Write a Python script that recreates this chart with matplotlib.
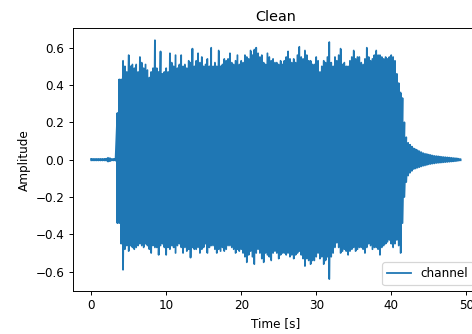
import numpy as np
import matplotlib
matplotlib.use('Agg')
import matplotlib.pyplot as plt

# ---- Data: per-0.25 s peak envelope ----
# sample grid: 0 .. 49.25 s
t_step = 0.25
n_quiet, n_main, n_tail = 14, 153, 31

# 0 - 3.25 s: near silence
quiet_hi = [0.004, 0.004, 0.004, 0.004, 0.004, 0.004, 0.004, 0.004,
            0.005, 0.010, 0.008, 0.004, 0.004, 0.005]
quiet_lo = [-0.004, -0.004, -0.004, -0.004, -0.004, -0.004, -0.004, -0.004,
            -0.005, -0.010, -0.008, -0.004, -0.004, -0.005]

# 3.5 - 41.5 s: one row per second (4 samples)
main_hi = [
    0.25, 0.43, 0.43, 0.53,
    0.50, 0.47, 0.56, 0.50,
    0.51, 0.49, 0.51, 0.47,
    0.55, 0.52, 0.49, 0.51,
    0.48, 0.44, 0.47, 0.49,
    0.64, 0.49, 0.47, 0.58,
    0.46, 0.47, 0.49, 0.47,
    0.57, 0.52, 0.50, 0.56,
    0.49, 0.51, 0.56, 0.50,
    0.51, 0.49, 0.53, 0.52,
    0.595, 0.50, 0.53, 0.57,
    0.52, 0.55, 0.50, 0.51,
    0.54, 0.50, 0.60, 0.50,
    0.52, 0.50, 0.585, 0.50,
    0.51, 0.54, 0.53, 0.54,
    0.57, 0.52, 0.51, 0.53,
    0.56, 0.51, 0.53, 0.52,
    0.56, 0.55, 0.54, 0.585,
    0.56, 0.59, 0.60, 0.57,
    0.55, 0.56, 0.52, 0.51,
    0.57, 0.55, 0.53, 0.54,
    0.52, 0.52, 0.51, 0.53,
    0.51, 0.53, 0.55, 0.58,
    0.54, 0.52, 0.54, 0.52,
    0.56, 0.605, 0.55, 0.54,
    0.585, 0.56, 0.53, 0.53,
    0.51, 0.51, 0.55, 0.53,
    0.47, 0.50, 0.53, 0.52,
    0.55, 0.63, 0.52, 0.50,
    0.55, 0.53, 0.56, 0.595,
    0.51, 0.52, 0.50, 0.50,
    0.53, 0.55, 0.585, 0.54,
    0.55, 0.55, 0.52, 0.51,
    0.54, 0.60, 0.55, 0.53,
    0.54, 0.56, 0.585, 0.56,
    0.56, 0.55, 0.54, 0.55,
    0.54, 0.55, 0.56, 0.55,
    0.53, 0.46, 0.41, 0.36,
    0.33,
]
main_lo = [
    -0.34, -0.34, -0.45, -0.59,
    -0.48, -0.46, -0.49, -0.46,
    -0.47, -0.48, -0.47, -0.46,
    -0.45, -0.46, -0.47, -0.45,
    -0.46, -0.48, -0.50, -0.46,
    -0.47, -0.47, -0.51, -0.46,
    -0.45, -0.47, -0.51, -0.47,
    -0.48, -0.46, -0.47, -0.50,
    -0.46, -0.45, -0.47, -0.50,
    -0.47, -0.49, -0.48, -0.525,
    -0.47, -0.48, -0.48, -0.47,
    -0.50, -0.48, -0.47, -0.45,
    -0.50, -0.47, -0.46, -0.46,
    -0.48, -0.50, -0.48, -0.49,
    -0.47, -0.49, -0.48, -0.46,
    -0.46, -0.47, -0.48, -0.50,
    -0.48, -0.49, -0.48, -0.50,
    -0.52, -0.55, -0.51, -0.49,
    -0.52, -0.56, -0.50, -0.48,
    -0.50, -0.53, -0.55, -0.50,
    -0.51, -0.52, -0.54, -0.50,
    -0.49, -0.50, -0.53, -0.51,
    -0.50, -0.50, -0.51, -0.50,
    -0.52, -0.51, -0.53, -0.51,
    -0.50, -0.49, -0.51, -0.53,
    -0.57, -0.53, -0.54, -0.56,
    -0.54, -0.54, -0.52, -0.50,
    -0.53, -0.52, -0.56, -0.54,
    -0.52, -0.64, -0.52, -0.50,
    -0.47, -0.445, -0.47, -0.50,
    -0.49, -0.48, -0.49, -0.51,
    -0.49, -0.48, -0.47, -0.49,
    -0.48, -0.47, -0.47, -0.48,
    -0.50, -0.47, -0.45, -0.46,
    -0.48, -0.47, -0.47, -0.48,
    -0.51, -0.47, -0.46, -0.45,
    -0.44, -0.43, -0.45, -0.47,
    -0.45, -0.43, -0.46, -0.50,
    -0.34,
]

# 41.75 - 49.25 s: decay tail
tail_hi = [0.20, 0.12, 0.09, 0.08, 0.07, 0.06, 0.055, 0.05,
           0.045, 0.04, 0.035, 0.032, 0.03, 0.027, 0.025, 0.022,
           0.02, 0.019, 0.018, 0.016, 0.015, 0.014, 0.013, 0.012,
           0.011, 0.010, 0.009, 0.008, 0.007, 0.005, 0.003]
tail_lo = [-0.20, -0.12, -0.085, -0.07, -0.06, -0.05, -0.047, -0.043,
           -0.04, -0.036, -0.033, -0.031, -0.028, -0.025, -0.023, -0.021,
           -0.02, -0.018, -0.017, -0.016, -0.015, -0.014, -0.013, -0.012,
           -0.011, -0.010, -0.009, -0.008, -0.007, -0.005, -0.003]

env_hi = np.array(quiet_hi + main_hi + tail_hi)
env_lo = np.array(quiet_lo + main_lo + tail_lo)
assert len(env_hi) == len(env_lo) == n_quiet + n_main + n_tail
env_t = np.arange(len(env_hi)) * t_step

# interleave peaks/troughs so the line sweeps the full envelope
wave_t = np.repeat(env_t, 2)
wave_y = np.empty(2 * len(env_t))
wave_y[0::2] = env_hi
wave_y[1::2] = env_lo

# ---- Plot ----
DPI = 86.4
fig = plt.figure(figsize=(472 / DPI, 334 / DPI), dpi=DPI)
ax = fig.add_axes([0.154, 0.1287, 0.861, 0.7865])
color = '#1f77b4'
# solid body of the dense waveform
ax.fill_between(env_t, env_lo, env_hi, step='mid', color=color, linewidth=0)
ax.plot(wave_t, wave_y, color=color, linewidth=1.5, label='channel')
ax.set_title('Clean')
ax.set_xlabel('Time [s]')
ax.set_ylabel('Amplitude')
ax.legend(loc='lower right')

fig.savefig('out.png', dpi=DPI)
